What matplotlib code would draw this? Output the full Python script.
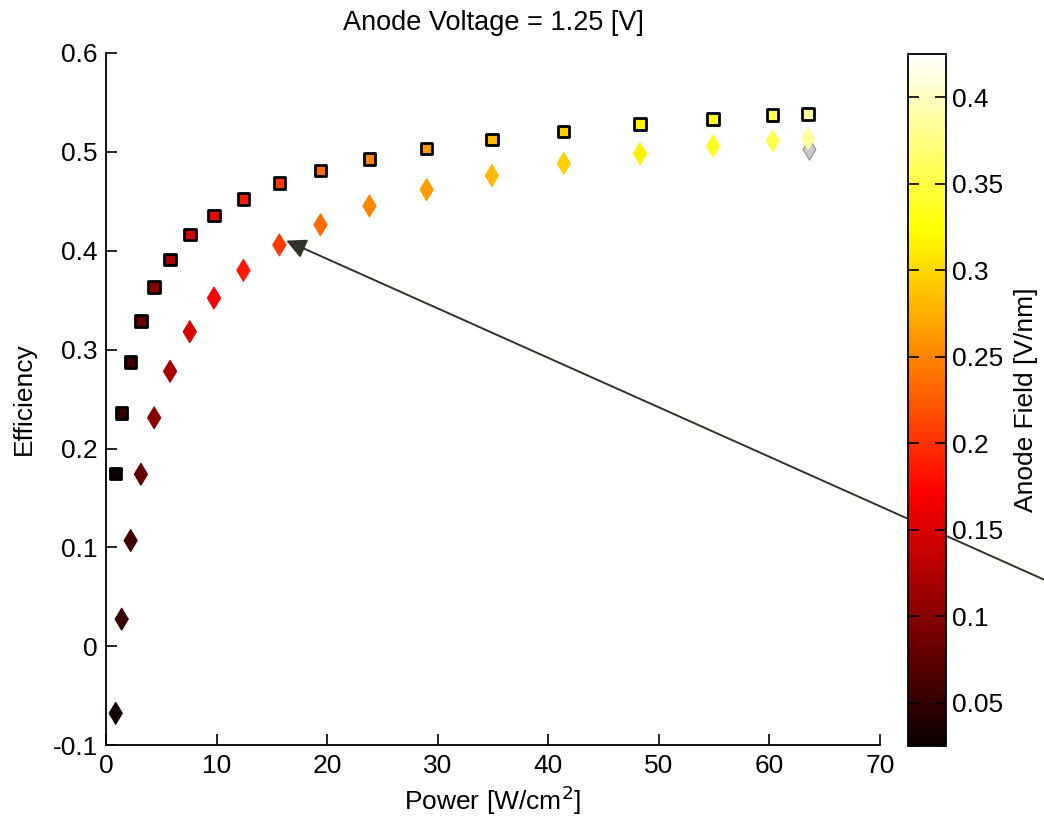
import numpy as np
import matplotlib.pyplot as plt

plt.rcParams['font.family'] = ['Liberation Sans', 'DejaVu Sans']
plt.rcParams['font.size'] = 19

# power sweep [W/cm^2]
power = [0.88, 1.42, 2.23, 3.16, 4.36, 5.80, 7.58, 9.77, 12.43, 15.68,
         19.4, 23.83, 29.0, 34.9, 41.4, 48.3, 54.9, 60.3, 63.5]
# anode field at each power point [V/nm]
field = [0.030, 0.050, 0.060, 0.080, 0.10, 0.12, 0.148, 0.165, 0.185, 0.205,
         0.235, 0.25, 0.265, 0.28, 0.295, 0.315, 0.335, 0.355, 0.385]
eff_square = [0.175, 0.236, 0.2875, 0.329, 0.363, 0.391, 0.416, 0.4355, 0.452, 0.468,
              0.481, 0.4926, 0.503, 0.512, 0.520, 0.528, 0.533, 0.537, 0.538]
eff_diamond = [-0.0675, 0.0276, 0.107, 0.174, 0.231, 0.278, 0.318, 0.352, 0.380, 0.4056,
               0.426, 0.445, 0.4615, 0.4757, 0.488, 0.4977, 0.5055, 0.5106, 0.513]
# extra point sitting behind the last diamond
extra_power = [63.6]
extra_eff = [0.503]

clim = (0.025, 0.425)

fig = plt.figure(figsize=(10.44, 8.21), dpi=100)
ax = fig.add_axes([0.1015, 0.092, 0.7414, 0.844])

ax.scatter(extra_power, extra_eff, s=117, marker='d', c='#c8c8c8',
           edgecolors='#909090', linewidths=0.8, zorder=2)
sc = ax.scatter(power, eff_diamond, s=125, marker='d', c=field, cmap='hot',
                vmin=clim[0], vmax=clim[1], edgecolors='face', linewidths=0.8, zorder=3)
ax.scatter(power, eff_square, s=68, marker='s', c=field, cmap='hot',
           vmin=clim[0], vmax=clim[1], edgecolors='black', linewidths=2.0, zorder=3)

ax.set_xlim(0, 70)
ax.set_ylim(-0.1, 0.6)
ax.set_xticks(np.arange(0, 71, 10))
ax.set_yticks(np.arange(-0.1, 0.61, 0.1))
ax.set_yticklabels(['-0.1', '0', '0.1', '0.2', '0.3', '0.4', '0.5', '0.6'])
ax.tick_params(direction='in', length=8, width=1.2, pad=6)
ax.spines['top'].set_visible(False)
ax.spines['right'].set_visible(False)
for s in ['left', 'bottom']:
    ax.spines[s].set_linewidth(1.3)

ax.set_xlabel('Power [W/cm$^2$]', labelpad=4)
ax.set_ylabel('Efficiency', labelpad=12)
ax.set_title('Anode Voltage = 1.25 [V]', fontsize=19.5, pad=16)

# arrow pointing at the diamond series
ax.annotate('', xy=(16.3, 0.41), xycoords='data',
            xytext=(1.0, 0.294), textcoords='figure fraction',
            arrowprops=dict(arrowstyle='-|>', color='#33332a', lw=1.4,
                            mutation_scale=30, shrinkA=0, shrinkB=0),
            annotation_clip=False, zorder=5)

cax = fig.add_axes([0.870, 0.0914, 0.0364, 0.843])
cb = fig.colorbar(sc, cax=cax)
cb.set_ticks([0.05, 0.1, 0.15, 0.2, 0.25, 0.3, 0.35, 0.4])
cb.set_ticklabels(['0.05', '0.1', '0.15', '0.2', '0.25', '0.3', '0.35', '0.4'])
cax.tick_params(direction='in', length=8, width=1.2, left=True, right=True, pad=4)
cb.outline.set_linewidth(1.3)
cb.set_label('Anode Field [V/nm]', labelpad=8)

fig.savefig('out.png', dpi=100)
